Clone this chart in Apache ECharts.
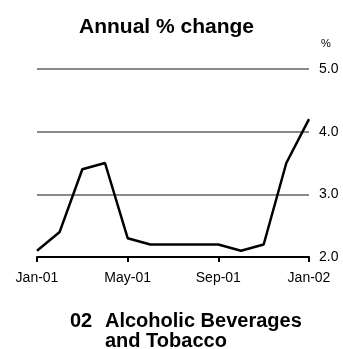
<!DOCTYPE html>
<html>
<head>
<meta charset="utf-8">
<script src="https://cdn.jsdelivr.net/npm/echarts@6/dist/echarts.min.js"></script>
<style>
  html, body { margin: 0; padding: 0; background: #fff; }
  #chart { width: 343px; height: 349px; }
</style>
</head>
<body>
<div id="chart"></div>
<script>
// monthly categories, Jan-01 .. Jan-02
var months = ['Jan-01', 'Feb-01', 'Mar-01', 'Apr-01', 'May-01', 'Jun-01', 'Jul-01',
  'Aug-01', 'Sep-01', 'Oct-01', 'Nov-01', 'Dec-01', 'Jan-02'];
// annual % change
var change = [2.1, 2.4, 3.4, 3.5, 2.3, 2.2, 2.2, 2.2, 2.2, 2.1, 2.2, 3.5, 4.2];
var yTicks = { min: 2, max: 5, step: 1 };

var font = 'Liberation Sans, Arial, sans-serif';
var chart = echarts.init(document.getElementById('chart'));

chart.setOption({
  animation: false,
  title: [{
    text: 'Annual % change',
    left: 74, top: 12,
    textStyle: { fontFamily: font, fontSize: 21, fontWeight: 'bold', color: '#000' }
  }, {
    text: '02',
    left: 65, top: 306,
    textStyle: { fontFamily: font, fontSize: 20, fontWeight: 'bold', color: '#000', lineHeight: 20 }
  }, {
    text: 'Alcoholic Beverages\nand Tobacco',
    left: 100, top: 306,
    textStyle: { fontFamily: font, fontSize: 20, fontWeight: 'bold', color: '#000', lineHeight: 20 }
  }],
  grid: { left: 37, right: 34, top: 69, bottom: 92 },
  xAxis: {
    type: 'category',
    data: months,
    boundaryGap: false,
    axisLine: { lineStyle: { color: '#000', width: 2 } },
    axisTick: { interval: 3, length: 5, lineStyle: { color: '#000', width: 2 } },
    axisLabel: { interval: 3, margin: 14, color: '#000', fontFamily: font, fontSize: 14 },
    splitLine: { show: false }
  },
  yAxis: {
    type: 'value',
    position: 'right',
    min: yTicks.min, max: yTicks.max, interval: yTicks.step,
    name: '%',
    nameLocation: 'end',
    nameGap: 20,
    nameTextStyle: { color: '#000', fontFamily: font, fontSize: 11, align: 'left', padding: [0, 0, 0, 12] },
    axisLine: { show: false },
    axisTick: { show: false },
    axisLabel: {
      margin: 10, color: '#000', fontFamily: font, fontSize: 14,
      formatter: function (v) { return v.toFixed(1); }
    },
    splitLine: { lineStyle: { color: '#8a8a8a', width: 2 } }
  },
  series: [{
    type: 'line',
    data: change,
    symbol: 'none',
    lineStyle: { color: '#000', width: 2.5 },
    z: 3
  }]
});
</script>
</body>
</html>
